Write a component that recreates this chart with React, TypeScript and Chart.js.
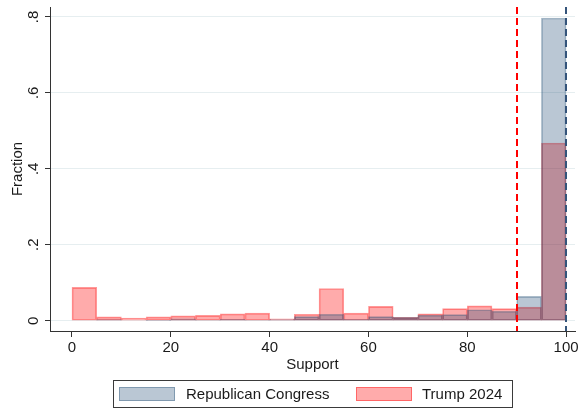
import React, { useEffect, useRef } from "react";
import { Chart, registerables } from "chart.js";

Chart.register(...registerables);

// Histogram bins (lower edge of each 5-point bin on the Support scale)
const binStarts = [0, 5, 10, 15, 20, 25, 30, 35, 40, 45, 50, 55, 60, 65, 70, 75, 80, 85, 90, 95];
const binWidth = 5;

// Fraction of respondents in each bin
const republicanCongress = [
  0, 0.003, 0, 0.001, 0.005, 0.002, 0.004, 0.002, 0.003, 0.011,
  0.017, 0.004, 0.011, 0.009, 0.015, 0.016, 0.029, 0.025, 0.064, 0.797,
];
const trump2024 = [
  0.088, 0.01, 0.007, 0.01, 0.013, 0.014, 0.018, 0.02, 0.005, 0.017,
  0.085, 0.02, 0.038, 0.009, 0.018, 0.032, 0.039, 0.032, 0.036, 0.468,
];

const xTicks = [0, 20, 40, 60, 80, 100];
const yTicks = [0, 0.2, 0.4, 0.6, 0.8];
const yTickLabels = ["0", ".2", ".4", ".6", ".8"];

// Reference lines on the Support axis
const thresholdLine = 90;
const maxLine = 100;

const seriesNames = ["Republican Congress", "Trump 2024"];

const FONT = "'Liberation Sans', Arial, Helvetica, sans-serif";
const INK = "#1a1a1a";
const AXIS = "#333333";

const BLUE_FILL = "rgba(26,71,111,0.3)";
const BLUE_EDGE = "rgba(26,71,111,0.36)";
const RED_FILL = "rgba(255,0,0,0.33)";
const RED_EDGE = "rgba(255,0,0,0.4)";

const refLinesPlugin = {
  id: "refLines",
  afterDatasetsDraw(chart: any) {
    const { ctx, chartArea, scales } = chart;
    const draw = (v: number, color: string) => {
      const x = Math.round(scales.x.getPixelForValue(v));
      ctx.save();
      ctx.strokeStyle = color;
      ctx.lineWidth = 2;
      ctx.setLineDash([7, 4]);
      ctx.beginPath();
      ctx.moveTo(x, chartArea.top);
      ctx.lineTo(x, chartArea.bottom);
      ctx.stroke();
      ctx.restore();
    };
    draw(thresholdLine, "rgb(255,0,0)");
    draw(maxLine, "rgb(52,84,122)");
  },
};

const textPlugin = {
  id: "axisText",
  afterDraw(chart: any) {
    const { ctx, chartArea, scales } = chart;
    ctx.save();
    ctx.fillStyle = INK;
    ctx.font = `15px ${FONT}`;
    ctx.textAlign = "center";
    ctx.textBaseline = "middle";

    // y tick labels, rotated
    yTicks.forEach((v, i) => {
      const y = scales.y.getPixelForValue(v);
      ctx.save();
      ctx.translate(chartArea.left - 16, y);
      ctx.rotate(-Math.PI / 2);
      ctx.fillText(yTickLabels[i], 0, 0);
      ctx.restore();
    });

    // y title
    ctx.save();
    ctx.translate(18, (chartArea.top + chartArea.bottom) / 2);
    ctx.rotate(-Math.PI / 2);
    ctx.fillText("Fraction", 0, 0);
    ctx.restore();

    // x tick labels
    xTicks.forEach((v) => {
      const x = scales.x.getPixelForValue(v);
      ctx.fillText(String(v), x, chartArea.bottom + 17);
    });

    // x title
    ctx.fillText("Support", (chartArea.left + chartArea.right) / 2, chartArea.bottom + 34);

    // legend
    const lx = 113.5, ly = 380.5, lw = 399, lh = 27;
    ctx.fillStyle = "#ffffff";
    ctx.fillRect(lx, ly, lw, lh);
    ctx.strokeStyle = "#3a3a3a";
    ctx.lineWidth = 1;
    ctx.strokeRect(lx, ly, lw, lh);

    const swatch = (x: number, fill: string, edge: string) => {
      ctx.fillStyle = fill;
      ctx.fillRect(x, 387, 56, 14);
      ctx.strokeStyle = edge;
      ctx.lineWidth = 1;
      ctx.strokeRect(x + 0.5, 387.5, 55, 13);
    };
    swatch(119, BLUE_FILL, BLUE_EDGE);
    swatch(356, RED_FILL, RED_EDGE);

    ctx.fillStyle = INK;
    ctx.textAlign = "left";
    ctx.fillText(seriesNames[0], 186, 394.5);
    ctx.fillText(seriesNames[1], 422, 394.5);
    ctx.restore();
  },
};

export default function App() {
  const canvasRef = useRef<HTMLCanvasElement | null>(null);

  useEffect(() => {
    const canvas = canvasRef.current;
    if (!canvas) return;

    const toPoints = (vals: number[]) =>
      binStarts.map((b, i) => ({ x: b + binWidth / 2, y: vals[i] }));

    const barCommon = {
      grouped: false,
      barPercentage: 1,
      categoryPercentage: 1,
      borderWidth: 1,
      borderSkipped: false,
    };

    const chart = new Chart(canvas, {
      type: "bar",
      data: {
        datasets: [
          {
            label: seriesNames[0],
            data: toPoints(republicanCongress),
            backgroundColor: BLUE_FILL,
            borderColor: BLUE_EDGE,
            ...barCommon,
          } as any,
          {
            label: seriesNames[1],
            data: toPoints(trump2024),
            backgroundColor: RED_FILL,
            borderColor: RED_EDGE,
            ...barCommon,
          } as any,
        ],
      },
      options: {
        animation: false,
        responsive: false,
        devicePixelRatio: 1,
        layout: { padding: { left: 0, right: 12, top: 7, bottom: 32 } },
        plugins: {
          legend: { display: false },
          tooltip: { enabled: false },
        },
        scales: {
          x: {
            type: "linear",
            min: -4.45,
            max: 101.8,
            offset: false,
            afterBuildTicks: (s: any) => {
              s.ticks = xTicks.map((v) => ({ value: v }));
            },
            afterFit: (s: any) => {
              s.height = 50;
            },
            grid: {
              offset: false,
              drawOnChartArea: false,
              tickLength: 6,
              color: AXIS,
              tickColor: AXIS,
            },
            border: { color: AXIS, width: 1 },
            ticks: { display: false },
          },
          y: {
            type: "linear",
            min: -0.027,
            max: 0.826,
            afterBuildTicks: (s: any) => {
              s.ticks = yTicks.map((v) => ({ value: v }));
            },
            afterFit: (s: any) => {
              s.width = 50;
            },
            grid: {
              color: "#e6eef0",
              tickColor: AXIS,
              tickLength: 5,
            },
            border: { color: AXIS, width: 1 },
            ticks: { display: false },
          },
        },
      } as any,
      plugins: [refLinesPlugin, textPlugin],
    });

    return () => chart.destroy();
  }, []);

  return (
    <div style={{ position: "fixed", left: 0, top: 0, width: 587, height: 413, background: "#fff" }}>
      <canvas ref={canvasRef} width={587} height={413} />
    </div>
  );
}
